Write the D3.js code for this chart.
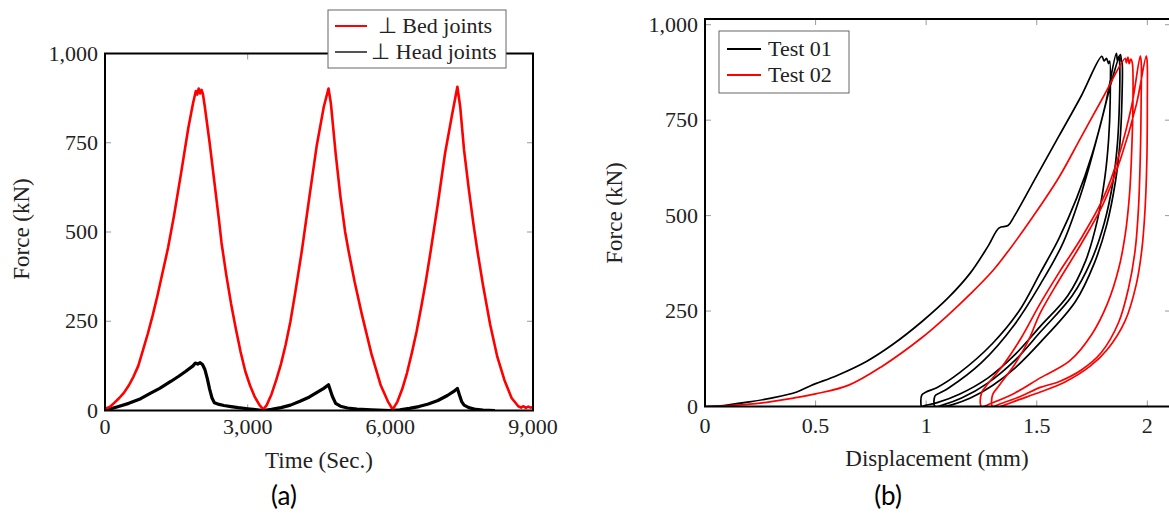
<!DOCTYPE html>
<html>
<head>
<meta charset="utf-8">
<script src="https://cdn.jsdelivr.net/npm/d3@7"></script>
<style>
  body { margin: 0; background: #fff; }
  svg text { font-family: "Liberation Serif", "Times New Roman", serif; fill: #222; }
  svg text.cap { font-family: Lato, "Open Sans", sans-serif; fill: #000; }
</style>
</head>
<body>
<svg id="fig" width="1169" height="516"></svg>
<script>
// ---- data ----
var timeTicks = [0, 3000, 6000, 9000];
var forceTicks = [0, 250, 500, 750, 1000];
var dispTicks = [0, 0.5, 1, 1.5, 2];

// (a) force vs time
var bedJoints = [[0,5],[100,10],[200,22],[300,35],[400,50],[500,70],[600,95],[700,125],[800,170],[900,215],
  [1000,265],[1100,320],[1200,380],[1325,455],[1450,545],[1600,665],[1750,790],[1850,860],[1910,895],[1940,885],
  [1970,902],[2000,888],[2030,898],[2060,886],[2100,850],[2200,750],[2300,640],[2400,530],[2450,470],[2550,380],
  [2650,300],[2750,230],[2850,165],[2950,110],[3050,70],[3150,38],[3250,15],[3330,3],
  [3400,15],[3500,45],[3600,85],[3700,130],[3800,185],[3900,250],[4000,330],[4140,448],[4300,600],[4450,740],
  [4600,850],[4700,902],[4750,860],[4850,720],[4950,600],[5050,500],[5120,448],[5250,360],[5400,270],[5600,160],
  [5800,70],[5950,25],[6050,3],
  [6150,25],[6250,60],[6350,105],[6450,160],[6550,220],[6650,290],[6750,365],[6850,448],[7000,580],[7150,720],
  [7300,830],[7410,907],[7470,850],[7550,730],[7650,620],[7750,520],[7830,448],[7950,350],[8100,240],[8250,150],
  [8400,85],[8550,35],[8690,12],[8750,8],[8800,12],[8850,7],[8900,11],[8950,8],[9000,10]];

var headJoints = [[0,0],[100,4],[250,10],[500,20],[750,33],[950,48],[1150,62],[1390,82],[1550,96],[1700,110],
  [1850,125],[1900,133],[1950,130],[2000,134],[2050,129],[2100,115],[2150,90],[2200,60],[2250,35],[2300,22],
  [2400,17],[2500,14],[2650,11],[2800,8],[3000,5],[3200,2],[3330,0],[3500,3],[3700,8],[3900,15],[4100,26],
  [4300,38],[4450,50],[4600,62],[4700,72],[4730,60],[4780,40],[4850,20],[4950,12],[5100,7],[5300,4],[5600,2],
  [6000,0],[6200,2],[6400,6],[6600,11],[6800,18],[7000,28],[7200,42],[7350,55],[7410,62],[7450,45],[7500,25],
  [7550,15],[7650,8],[7800,3],[7950,1],[8200,0]];

// (b) force vs displacement
var test01 = [[0,0],[0.05,1],[0.1,4],[0.2,12],[0.3,22],[0.415,38],[0.48,55],[0.6,82],[0.73,118],[0.85,163],
  [0.98,222],[1.1,285],[1.2,350],[1.28,420],[1.33,468],[1.37,474],[1.4,500],[1.5,604],[1.6,708],[1.7,812],
  [1.794,917],[1.805,905],[1.815,912],[1.825,898],[1.83,905],
  [1.832,800],[1.825,700],[1.808,600],[1.775,490],[1.72,380],[1.64,290],[1.516,210],[1.4,135],[1.28,75],
  [1.15,32],[1.05,10],[0.99,2],[0.98,0],
  [0.98,30],[1.0,38],[1.05,50],[1.15,88],[1.3,165],[1.42,250],[1.516,350],[1.6,440],[1.68,545],[1.75,660],
  [1.81,790],[1.86,925],[1.865,905],[1.872,918],
  [1.875,900],[1.874,800],[1.865,690],[1.845,590],[1.805,480],[1.745,380],[1.66,290],[1.516,195],[1.4,120],
  [1.28,62],[1.16,22],[1.08,5],[1.04,0],
  [1.04,28],[1.06,35],[1.1,48],[1.25,115],[1.4,215],[1.516,320],[1.62,430],[1.71,575],[1.78,720],[1.84,855],
  [1.878,922],[1.883,905],
  [1.886,900],[1.885,800],[1.876,690],[1.856,590],[1.816,475],[1.76,375],[1.675,275],[1.516,168],[1.4,100],
  [1.3,55],[1.2,22],[1.12,5],[1.08,0]];

var test02 = [[0,0],[0.1,2],[0.2,6],[0.3,13],[0.4,22],[0.5,33],[0.65,56],[0.8,105],[0.98,180],[1.1,240],
  [1.2,295],[1.3,355],[1.375,410],[1.48,495],[1.6,600],[1.7,705],[1.8,810],[1.9,912],
  [1.905,900],[1.912,915],[1.918,898],[1.925,910],[1.932,900],
  [1.935,800],[1.93,680],[1.92,560],[1.9,450],[1.87,360],[1.82,270],[1.75,190],[1.65,120],[1.516,75],
  [1.4,35],[1.3,10],[1.25,0],
  [1.25,35],[1.28,60],[1.35,110],[1.43,180],[1.516,270],[1.6,350],[1.7,440],[1.8,545],[1.87,655],[1.93,790],
  [1.968,918],[1.972,905],
  [1.972,800],[1.968,650],[1.96,520],[1.945,410],[1.915,310],[1.87,220],[1.79,140],[1.7,95],[1.6,65],
  [1.516,50],[1.42,25],[1.33,6],[1.30,0],
  [1.30,30],[1.33,55],[1.4,110],[1.46,170],[1.516,245],[1.6,330],[1.7,425],[1.8,530],[1.88,650],[1.95,790],
  [1.995,918],[1.999,905],
  [2.0,800],[1.998,650],[1.99,520],[1.975,410],[1.95,320],[1.9,225],[1.82,150],[1.74,105],[1.63,65],
  [1.516,38],[1.42,18],[1.36,5],[1.335,0]];

var svg = d3.select("#fig");

// draws a boxed pgfplots-like panel, returns the scales
function drawPanel(p) {
  var x = d3.scaleLinear().domain(p.xDomain).range([p.left, p.right]);
  var y = d3.scaleLinear().domain(p.yDomain).range([p.bottom, p.top]);
  var g = svg.append("g");

  g.append("clipPath").attr("id", p.id + "-clip")
    .append("rect")
    .attr("x", p.left).attr("y", p.top)
    .attr("width", p.right - p.left).attr("height", p.bottom - p.top);

  // inner ticks on all four sides
  var tk = 6;
  p.xTicks.forEach(function(v) {
    g.append("line").attr("x1", x(v)).attr("x2", x(v)).attr("y1", p.bottom).attr("y2", p.bottom - tk)
      .attr("stroke", "#999");
    g.append("line").attr("x1", x(v)).attr("x2", x(v)).attr("y1", p.top).attr("y2", p.top + tk)
      .attr("stroke", "#999");
  });
  p.yTicks.forEach(function(v) {
    g.append("line").attr("x1", p.left).attr("x2", p.left + tk).attr("y1", y(v)).attr("y2", y(v))
      .attr("stroke", "#999");
    g.append("line").attr("x1", p.right).attr("x2", p.right - tk).attr("y1", y(v)).attr("y2", y(v))
      .attr("stroke", "#999");
  });

  var line = d3.line().curve(p.curve)
    .x(function(d) { return x(d[0]); }).y(function(d) { return y(d[1]); });
  var lines = g.append("g").attr("clip-path", "url(#" + p.id + "-clip)");
  p.series.forEach(function(s) {
    lines.append("path").datum(s.data)
      .attr("d", line)
      .attr("fill", "none")
      .attr("stroke", s.color)
      .attr("stroke-width", s.width)
      .attr("stroke-linejoin", "round");
  });

  g.append("rect")
    .attr("x", p.left).attr("y", p.top)
    .attr("width", p.right - p.left).attr("height", p.bottom - p.top)
    .attr("fill", "none").attr("stroke", "#000").attr("stroke-width", 2);

  g.selectAll(".xl").data(p.xTicks).enter().append("text")
    .attr("x", function(d) { return x(d); })
    .attr("y", p.bottom + p.xLabelGap)
    .attr("text-anchor", "middle")
    .style("font-size", "22px")
    .text(p.xFmt);
  g.selectAll(".yl").data(p.yTicks).enter().append("text")
    .attr("x", p.left - 7)
    .attr("y", function(d) { return y(d) + 7; })
    .attr("text-anchor", "end")
    .style("font-size", "22px")
    .text(d3.format(","));

  g.append("text")
    .attr("x", p.xTitle[0]).attr("y", p.xTitle[1])
    .attr("text-anchor", "middle")
    .style("font-size", "23px")
    .text(p.xLabel);
  g.append("text")
    .attr("transform", "translate(" + p.yTitle[0] + "," + p.yTitle[1] + ") rotate(-90)")
    .attr("text-anchor", "middle")
    .style("font-size", "23px")
    .text(p.yLabel);
  return { x: x, y: y };
}

drawPanel({
  id: "pa", left: 105, right: 533, top: 53.5, bottom: 410.5,
  xDomain: [0, 9000], yDomain: [0, 1000],
  xTicks: timeTicks, yTicks: forceTicks, xFmt: d3.format(","), xLabelGap: 23,
  curve: d3.curveLinear,
  series: [
    { data: headJoints, color: "#000", width: 3.2 },
    { data: bedJoints, color: "#f00", width: 2.6 }
  ],
  xLabel: "Time (Sec.)", xTitle: [319, 468],
  yLabel: "Force (kN)", yTitle: [29, 229]
});

drawPanel({
  id: "pb", left: 705, right: 1171, top: 19, bottom: 406.5,
  xDomain: [0, 2.107], yDomain: [0, 1015],
  xTicks: dispTicks, yTicks: forceTicks, xFmt: d3.format(""), xLabelGap: 26,
  curve: d3.curveCatmullRom.alpha(0.5),
  series: [
    { data: test01, color: "#000", width: 1.7 },
    { data: test02, color: "#f00", width: 1.7 }
  ],
  xLabel: "Displacement (mm)", xTitle: [937, 466],
  yLabel: "Force (kN)", yTitle: [622, 213]
});

// legends
function legend(box, rows, anchor) {
  var g = svg.append("g");
  g.append("rect").attr("x", box[0]).attr("y", box[1]).attr("width", box[2]).attr("height", box[3])
    .attr("fill", "#fff").attr("stroke", "#666").attr("stroke-width", 1);
  rows.forEach(function(r) {
    g.append("line").attr("x1", r.x1).attr("x2", r.x2).attr("y1", r.y).attr("y2", r.y)
      .attr("stroke", r.color).attr("stroke-width", 2);
    g.append("text").attr("x", r.tx).attr("y", r.y + 7)
      .attr("text-anchor", anchor)
      .style("font-size", "22px")
      .text(r.label);
  });
}

legend([328, 10, 178, 58], [
  { x1: 335, x2: 367, y: 26, color: "#f00", tx: 435, label: "\u22A5 Bed joints" },
  { x1: 335, x2: 367, y: 52, color: "#555", tx: 434, label: "\u22A5 Head joints" }
], "middle");

legend([719, 31, 130, 62], [
  { x1: 727, x2: 761, y: 49, color: "#000", tx: 768, label: "Test 01" },
  { x1: 727, x2: 761, y: 75, color: "#f00", tx: 768, label: "Test 02" }
], "start");

// panel captions
svg.append("text").attr("class", "cap").attr("x", 284).attr("y", 505)
  .attr("text-anchor", "middle").style("font-size", "26px").text("(a)");
svg.append("text").attr("class", "cap").attr("x", 888).attr("y", 505)
  .attr("text-anchor", "middle").style("font-size", "26px").text("(b)");
</script>
</body>
</html>
